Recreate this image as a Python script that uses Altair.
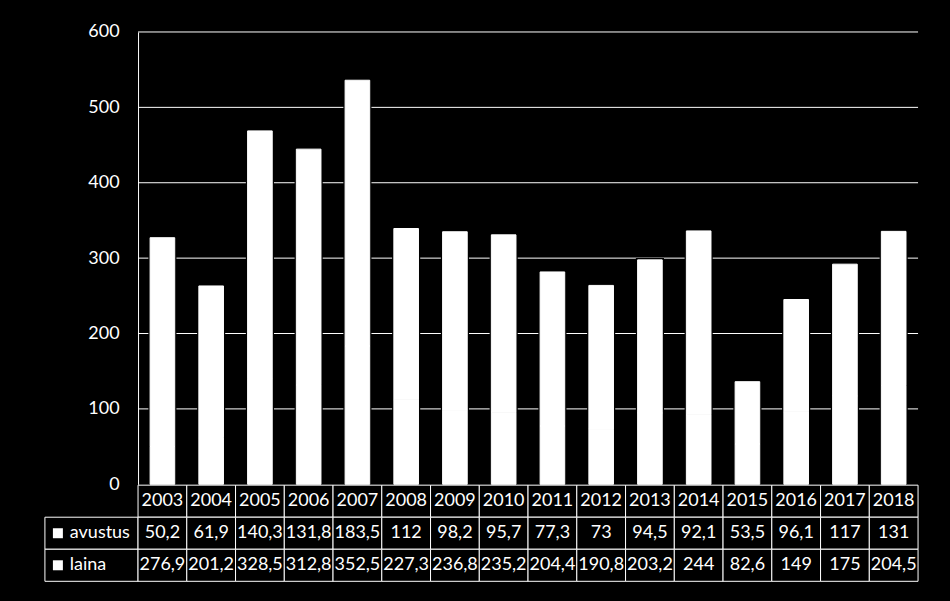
import altair as alt
import pandas as pd

# ---- data ----
years = ["2003", "2004", "2005", "2006", "2007", "2008", "2009", "2010",
         "2011", "2012", "2013", "2014", "2015", "2016", "2017", "2018"]
avustus = [50.2, 61.9, 140.3, 131.8, 183.5, 112, 98.2, 95.7,
           77.3, 73, 94.5, 92.1, 53.5, 96.1, 117, 131]
laina = [276.9, 201.2, 328.5, 312.8, 352.5, 227.3, 236.8, 235.2,
         204.4, 190.8, 203.2, 244, 82.6, 149, 175, 204.5]
series_names = ["avustus", "laina"]
y_ticks = [0, 100, 200, 300, 400, 500, 600]

# ---- style / layout constants ----
FONT = "Lato"
FS = 18
N = len(years)
HEADER_W = 1.91          # width of the table's row-header column, in column units
BAR_W = 0.505            # bar width as a share of a column
PLOT_W = 874.7
BARS_H = 453.1
TABLE_H = 96.3


def fmt(v):
    return f"{v:g}".replace(".", ",")


series_vals = [avustus, laina]

long_rows = []
for i, yr in enumerate(years):
    for s, vals in zip(series_names, series_vals):
        long_rows.append({"year": yr, "i": i, "series": s,
                          "order": series_names.index(s), "value": vals[i]})
long_df = pd.DataFrame(long_rows)

wide_df = pd.DataFrame({"year": years, "i": list(range(N)),
                        "avustus": avustus, "laina": laina})

xscale = alt.Scale(domain=[-HEADER_W, N], nice=False, zero=False, padding=0)
yscale = alt.Scale(domain=[y_ticks[0], y_ticks[-1]], nice=False, padding=0)

# gridlines
grid = alt.Chart(pd.DataFrame({"tick": y_ticks[1:]})).transform_calculate(
    x0="0", x1=str(N)
).mark_rule(color="white", strokeWidth=1).encode(
    x=alt.X("x0:Q", scale=xscale, axis=None),
    x2="x1:Q",
    y=alt.Y("tick:Q", scale=yscale,
            axis=alt.Axis(values=y_ticks, offset=-(PLOT_W * HEADER_W / (N + HEADER_W)),
                          grid=False, ticks=False, domain=True, domainColor="white",
                          domainWidth=1, labelColor="white", labelFont=FONT,
                          labelFontSize=FS, labelPadding=19, title=None)),
)

# black halo around each bar
halo = alt.Chart(wide_df).transform_calculate(
    total="datum.avustus + datum.laina",
    xs=f"datum.i + {(1 - BAR_W) / 2}",
    xe=f"datum.i + {(1 + BAR_W) / 2}",
).mark_bar(fill="black", stroke="black", strokeWidth=3.5, orient="vertical").encode(
    x=alt.X("xs:Q", scale=xscale, axis=None),
    x2="xe:Q",
    y=alt.Y("total:Q", scale=yscale),
)

bars = alt.Chart(long_df).transform_stack(
    stack="value", as_=["v0", "v1"], groupby=["year"],
    sort=[alt.SortField(field="order", order="ascending")],
).transform_calculate(
    xs=f"datum.i + {(1 - BAR_W) / 2}",
    xe=f"datum.i + {(1 + BAR_W) / 2}",
).mark_bar(color="white", stroke="white", strokeWidth=1).encode(
    x=alt.X("xs:Q", scale=xscale, axis=None),
    x2="xe:Q",
    y=alt.Y("v0:Q", scale=yscale),
    y2="v1:Q",
)

top = alt.layer(grid, halo, bars).properties(width=PLOT_W, height=BARS_H)

# ---- data table ----
row_domain = ["vuosi"] + series_names
cells = []
for i, yr in enumerate(years):
    cells.append({"row": "vuosi", "x0": i, "x1": i + 1, "label": yr, "kind": "cell"})
for s, vals in zip(series_names, series_vals):
    cells.append({"row": s, "x0": -HEADER_W, "x1": 0, "label": s, "kind": "header"})
    for i, v in enumerate(vals):
        cells.append({"row": s, "x0": i, "x1": i + 1, "label": fmt(v), "kind": "cell"})
cells_df = pd.DataFrame(cells)

row_scale = alt.Scale(domain=row_domain, paddingInner=0, paddingOuter=0)

base = alt.Chart(cells_df)
rects = base.mark_rect(fill="black", stroke="white", strokeWidth=1).encode(
    x=alt.X("x0:Q", scale=xscale, axis=None),
    x2="x1:Q",
    y=alt.Y("row:N", scale=row_scale, axis=None),
)
cell_text = base.transform_filter("datum.kind == 'cell'").transform_calculate(
    xc="datum.x0 + 0.5"
).mark_text(color="white", font=FONT, fontSize=FS, align="center",
            baseline="middle").encode(
    x=alt.X("xc:Q", scale=xscale, axis=None),
    y=alt.Y("row:N", scale=row_scale, axis=None),
    text="label:N",
)
head_text = base.transform_filter("datum.kind == 'header'").mark_text(
    color="white", font=FONT, fontSize=FS, align="left", baseline="middle"
).encode(
    x=alt.value(25),
    y=alt.Y("row:N", scale=row_scale, axis=None),
    text="label:N",
)
head_sq = base.transform_filter("datum.kind == 'header'").mark_square(
    size=100, color="white", filled=True, opacity=1
).encode(
    x=alt.value(13),
    y=alt.Y("row:N", scale=row_scale, axis=None),
)

table = alt.layer(rects, cell_text, head_text, head_sq).properties(
    width=PLOT_W, height=TABLE_H)

chart = alt.vconcat(top, table, spacing=0, bounds="flush").properties(
    padding={"left": 44, "top": 22.5, "right": 31, "bottom": 20},
    background="black",
).configure(font=FONT, view=alt.ViewConfig(stroke="transparent", strokeWidth=0))

chart.save("out.html", embed_options={"renderer": "svg", "actions": False})
